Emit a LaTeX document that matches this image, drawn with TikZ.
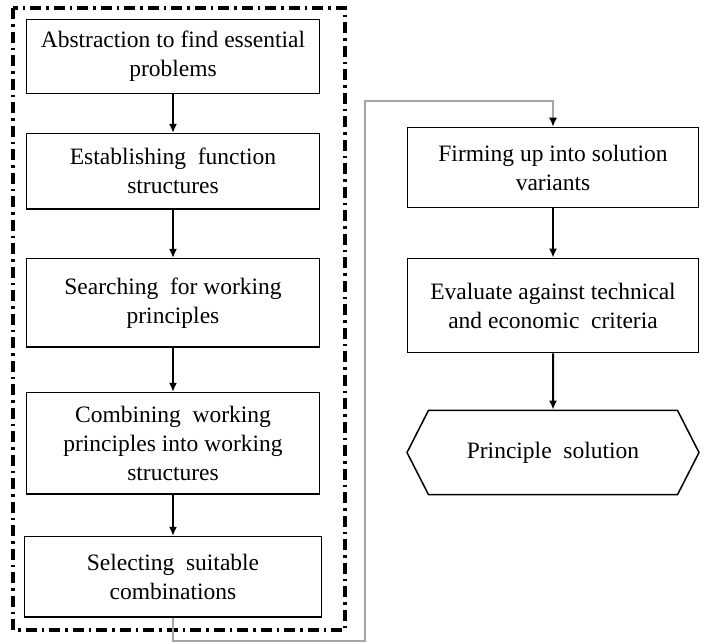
\documentclass[tikz,border=0pt]{standalone}
\usepackage{fontspec}
\setmainfont{Liberation Serif}
\usepackage{tikz}
\usetikzlibrary{positioning,shapes.symbols,arrows.meta}

\begin{document}
\begin{tikzpicture}[
    x=1pt, y=-1pt,
    >={Latex[length=9pt,width=8pt]},
    stepnode/.style={rectangle, draw=black, line width=1.5pt, fill=white, align=center, inner sep=2pt,
      font=\fontsize{23.5}{29}\selectfont, minimum width=293pt},
    endnode/.style={signal, signal to=west and east, signal pointer angle=126, draw=black, line width=1.5pt,
      align=center, font=\fontsize{23.5}{29}\selectfont, minimum width=292pt, minimum height=84.25pt},
    flow/.style={->, line width=2pt},
    jump/.style={-{Latex[length=9pt,width=8pt,black]}, draw=gray!70, line width=1.2pt},
    ]
    \useasboundingbox (0,0) rectangle (709,643);
    %Frame
    \draw[line width=3.2pt, dash pattern=on 11pt off 5pt on 2.5pt off 5pt] (13,8) rectangle (345,630);

    %Nodes
    \node[stepnode, minimum height=74.25pt]  (abstract)  at (173,56.5)               {Abstraction to find essential\\problems};
    \node[stepnode, minimum height=75.25pt]  (function)  [below=38.5pt of abstract]  {Establishing\ \ function\\structures};
    \node[stepnode, minimum height=88.25pt]  (search)    [below=48.25pt of function] {Searching\ \ for\ working\\principles};
    \node[stepnode, minimum height=101.25pt] (combine)   [below=44.25pt of search]   {Combining\ \ working\\principles into working\\structures};
    \node[stepnode, minimum height=80.25pt, minimum width=297pt] (select) [below=41.25pt of combine] {Selecting\ \ suitable\\combinations};

    \node[stepnode, minimum height=80.25pt, minimum width=291pt] (firm) at (553,167.5) {Firming up into solution\\variants};
    \node[stepnode, minimum height=94.25pt, minimum width=291pt] (evaluate) [below=49.25pt of firm] {Evaluate against technical\\and economic\ \ criteria};
    \node[endnode] (principle) [below=56.25pt of evaluate] {Principle\ \ solution};

    %Lines
    \coordinate (c1) at (select.south |- 0,641);
    \coordinate (c2) at (365,641);
    \coordinate (c3) at (365,101);
    \coordinate (c4) at (firm.north |- 0,101);
    \draw[flow] (abstract) -- (function);
    \draw[flow] (function) -- (search);
    \draw[flow] (search) -- (combine);
    \draw[flow] (combine) -- (select);
    \draw[jump] (select.south) -- (c1) -- (c2) -- (c3) -- (c4) -- (firm.north);
    \draw[flow] (firm) -- (evaluate);
    \draw[flow] (evaluate) -- (principle);
\end{tikzpicture}
\end{document}
